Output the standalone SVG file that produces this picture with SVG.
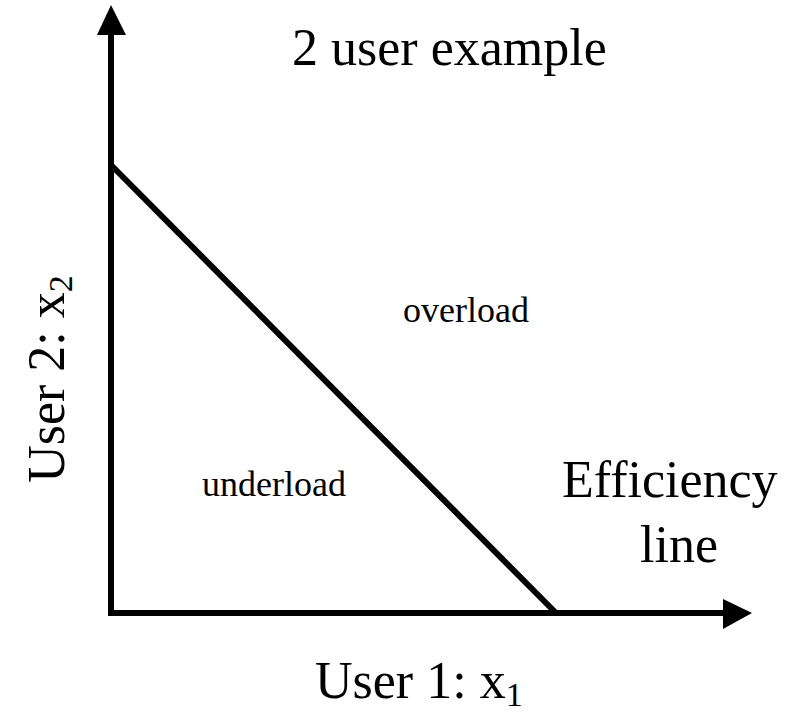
<svg xmlns="http://www.w3.org/2000/svg" width="796" height="717" viewBox="0 0 796 717">
<style>
text{font-family:"Liberation Serif","Times New Roman",serif;fill:#000}
.big{font-size:52px}
.small{font-size:36px}
.sub{font-size:34px}
.ax{stroke:#000;stroke-width:6;fill:none}
</style>
<rect width="796" height="717" fill="#fff"/>
<g id="connectors">
<line class="ax" x1="111" y1="616" x2="111" y2="34"/>
<polygon points="111,5 97,35 126,35" fill="#000"/>
<line class="ax" x1="108" y1="613" x2="724" y2="613"/>
<polygon points="752,613 723,599 723,629" fill="#000"/>
<line class="ax" x1="111" y1="165" x2="556" y2="613" stroke-width="5"/>
</g>
<g id="title"><text class="big" x="292" y="65">2 user example</text></g>
<g id="overload"><text class="small" x="403" y="322">overload</text></g>
<g id="underload"><text class="small" x="202" y="496">underload</text></g>
<g id="efficiency"><text class="big" x="562" y="497">Efficiency</text><text class="big" x="640" y="562">line</text></g>
<g id="xlabel"><text class="big" x="315" y="698">User 1: x<tspan class="sub" dy="8">1</tspan></text></g>
<g id="ylabel"><text class="big" transform="translate(64,379) rotate(-90)" text-anchor="middle">User 2: x<tspan class="sub" dy="8">2</tspan></text></g>
</svg>
